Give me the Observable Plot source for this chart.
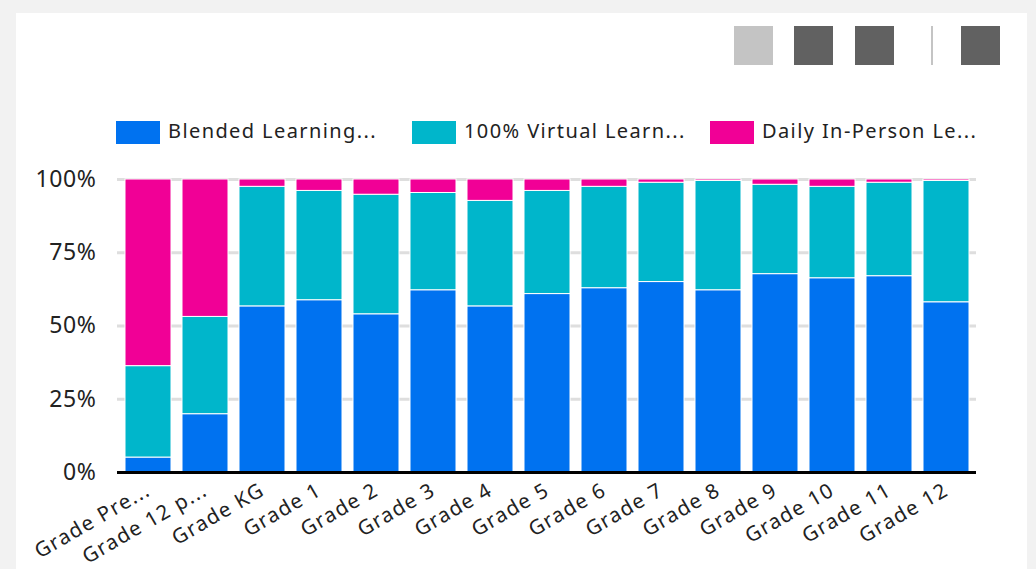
<!DOCTYPE html>
<html>
<head>
<meta charset="utf-8">
<script src="https://cdn.jsdelivr.net/npm/d3@7"></script>
<script src="https://cdn.jsdelivr.net/npm/@observablehq/plot@0.6"></script>
<style>
  html, body { margin: 0; padding: 0; background: #f2f2f2; width: 1036px; height: 569px; overflow: hidden; font-family: "Noto Sans", sans-serif; }
  #card { position: absolute; left: 16px; top: 13px; width: 1011px; height: 556px; background: #fff; }
  .icon { position: absolute; top: 26px; width: 39px; height: 39px; background: #616161; }
  #sep { position: absolute; left: 931px; top: 26px; width: 2px; height: 39px; background: #c4c4c4; }
  .sw { position: absolute; top: 121px; width: 44px; height: 23px; }
  .lt { position: absolute; top: 117px; font-size: 20px; letter-spacing: 1.4px; color: #222; line-height: 28px; white-space: nowrap; }
  #chart { position: absolute; left: 0; top: 0; }
  #chart g[aria-label="x-axis tick label"] text { letter-spacing: 1.4px; }
  #chart g[aria-label="y-axis tick label"] text { letter-spacing: 0.6px; }
</style>
</head>
<body>
<div id="card"></div>
<div class="icon" style="left:734px;background:#c4c4c4"></div>
<div class="icon" style="left:794px"></div>
<div class="icon" style="left:855px"></div>
<div id="sep"></div>
<div class="icon" style="left:961px"></div>
<div id="legend"></div>
<div id="chart"></div>
<script>
const grades = ["Grade Pre...", "Grade 12 p...", "Grade KG", "Grade 1", "Grade 2", "Grade 3", "Grade 4", "Grade 5", "Grade 6", "Grade 7", "Grade 8", "Grade 9", "Grade 10", "Grade 11", "Grade 12"];
const seriesNames = ["Blended Learning...", "100% Virtual Learn...", "Daily In-Person Le..."];
const seriesColors = ["#0072f0", "#00b6cb", "#f10096"];
const blended  = [5.1, 19.9, 56.7, 58.8, 54.0, 62.2, 56.7, 60.9, 62.9, 65.0, 62.2, 67.7, 66.3, 67.0, 58.1];
const virtual  = [31.2, 33.2, 40.8, 37.3, 40.8, 33.2, 36.0, 35.2, 34.6, 33.9, 37.3, 30.5, 31.2, 31.9, 41.4];
const inPerson = [63.7, 46.9, 2.5, 3.9, 5.2, 4.6, 7.3, 3.9, 2.5, 1.1, 0.5, 1.8, 2.5, 1.1, 0.5];
const yTicks = [0, 25, 50, 75, 100];

const seriesValues = [blended, virtual, inPerson];
const rows = [];
grades.forEach((g, i) => {
  seriesNames.forEach((s, j) => rows.push({grade: g, series: s, value: seriesValues[j][i]}));
});

// legend
const legendX = [116, 412, 710];
const legend = document.getElementById("legend");
seriesNames.forEach((s, j) => {
  const sw = document.createElement("div");
  sw.className = "sw";
  sw.style.left = legendX[j] + "px";
  sw.style.background = seriesColors[j];
  legend.appendChild(sw);
  const t = document.createElement("div");
  t.className = "lt";
  t.style.left = (legendX[j] + 52) + "px";
  t.textContent = s;
  legend.appendChild(t);
});

const fmt = d => d + "%";
const chart = Plot.plot({
  width: 1036,
  height: 569,
  marginTop: 179,
  marginBottom: 97,
  marginLeft: 117,
  marginRight: 60,
  style: {fontFamily: "Noto Sans, sans-serif", color: "#222", background: "transparent", overflow: "visible"},
  x: {domain: grades, paddingInner: 0.2, paddingOuter: 0.09, label: null, axis: null},
  y: {domain: [0, 100], label: null, axis: null},
  color: {domain: seriesNames, range: seriesColors},
  marks: [
    Plot.gridY(yTicks.slice(1), {stroke: "#dedede", strokeOpacity: 1, strokeWidth: 3}),
    Plot.barY(rows, {x: "grade", y: "value", fill: "series", stroke: "white", strokeWidth: 1}),
    Plot.ruleY([0], {stroke: "black", strokeWidth: 3}),
    Plot.axisY({ticks: yTicks, tickFormat: fmt, tickSize: 0, tickPadding: 21, fontSize: 23, label: null}),
    Plot.axisX({tickSize: 0, tickRotate: -30, tickPadding: 16, fontSize: 20.5, label: null})
  ]
});
document.getElementById("chart").appendChild(chart);
</script>
</body>
</html>
